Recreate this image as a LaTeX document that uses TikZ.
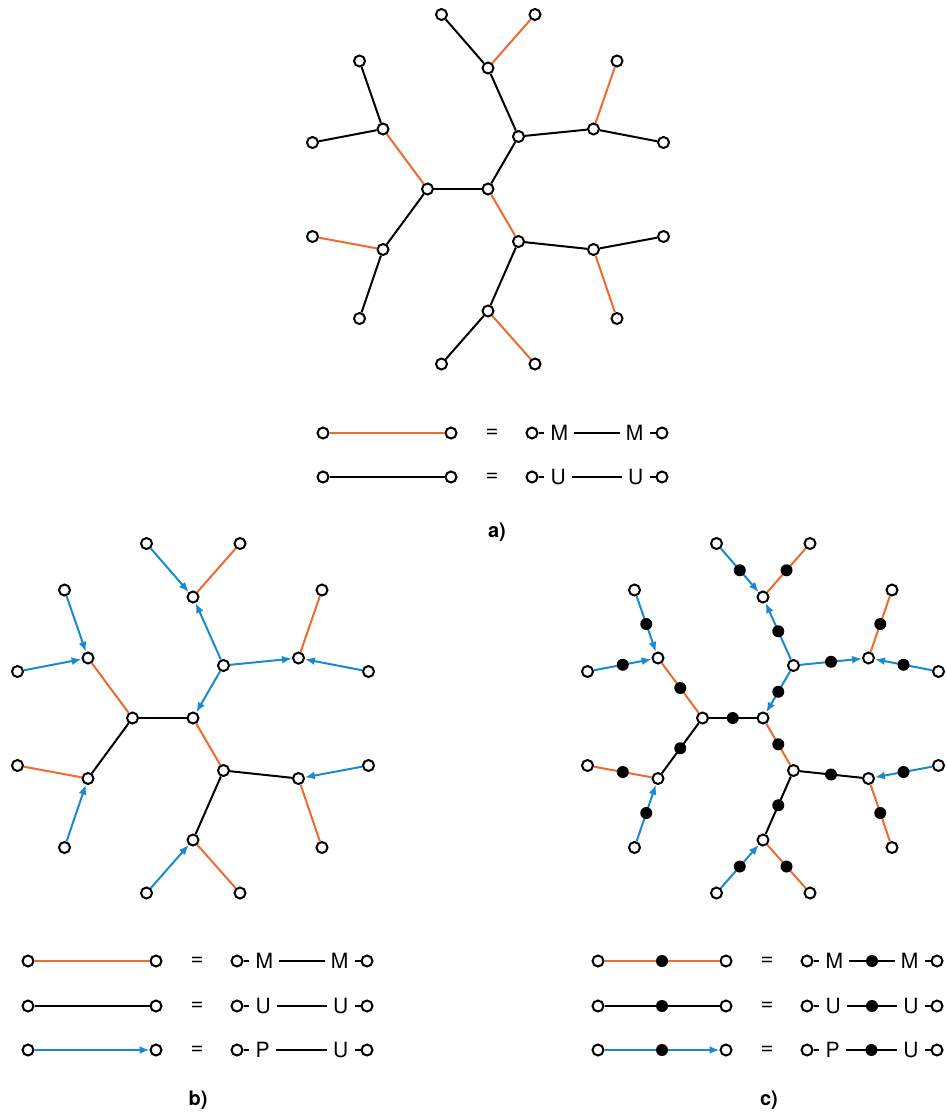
\documentclass[tikz,border=0pt]{standalone}
\usepackage{fontspec}
\setmainfont{TeX Gyre Heros}
\usetikzlibrary{arrows.meta}
\definecolor{org}{HTML}{EE6A2F}
\definecolor{blu}{HTML}{1A8AD0}
\tikzset{
  vtx/.style={circle, draw=black, fill=white, line width=2pt, minimum size=11pt, inner sep=0pt},
  mdot/.style={circle, fill=black, minimum size=12pt, inner sep=0pt},
  mnone/.style={inner sep=0pt, minimum size=0pt},
  oline/.style={draw=org, line width=2pt},
  kline/.style={draw=black, line width=2pt},
  bline/.style={draw=blu, line width=2pt, -{Latex[length=10pt,width=8pt]}},
  let/.style={inner xsep=6pt, inner ysep=0pt, text height=15pt, text depth=0pt, font=\fontsize{21}{24}\selectfont},
  eqs/.style={inner sep=0pt, font=\fontsize{22}{24}\selectfont},
  lab/.style={inner sep=0pt, font=\fontsize{20}{24}\selectfont\bfseries}
}
\newcommand\drawtree[4]{%
  \begin{scope}[shift={#2}]
    \node[vtx] (#1C1) at (427.5,189) {};
    \node[vtx] (#1C2) at (488,189) {};
    \node[vtx] (#1L1) at (383,129) {};
    \node[vtx] (#1L1a) at (359.5,61) {};
    \node[vtx] (#1L1b) at (312.5,142.5) {};
    \node[vtx] (#1L2) at (383,249.5) {};
    \node[vtx] (#1L2a) at (312.5,236.5) {};
    \node[vtx] (#1L2b) at (359.5,318.5) {};
    \node[vtx] (#1R1) at (518.5,136.5) {};
    \node[vtx] (#1T) at (488,68) {};
    \node[vtx] (#1Ta) at (441.5,14.5) {};
    \node[vtx] (#1Tb) at (535,14.5) {};
    \node[vtx] (#1RR1) at (593.5,129) {};
    \node[vtx] (#1RR1a) at (617,61) {};
    \node[vtx] (#1RR1b) at (663.5,142.5) {};
    \node[vtx] (#1R2) at (518.5,241.5) {};
    \node[vtx] (#1RR2) at (593.5,249.5) {};
    \node[vtx] (#1RR2a) at (663.5,236.5) {};
    \node[vtx] (#1RR2b) at (617,318.5) {};
    \node[vtx] (#1B) at (488,311) {};
    \node[vtx] (#1Ba) at (441.5,364) {};
    \node[vtx] (#1Bb) at (535,364) {};
  \end{scope}
  \draw[oline] (#1C1) -- node[#4]{} (#1L1);
  \draw[oline] (#1L2) -- node[#4]{} (#1L2a);
  \draw[oline] (#1C2) -- node[#4]{} (#1R2);
  \draw[oline] (#1T) -- node[#4]{} (#1Tb);
  \draw[oline] (#1RR1) -- node[#4]{} (#1RR1a);
  \draw[oline] (#1RR2) -- node[#4]{} (#1RR2b);
  \draw[oline] (#1B) -- node[#4]{} (#1Bb);
  \draw[kline] (#1C1) -- node[#4]{} (#1C2);
  \draw[kline] (#1C1) -- node[#4]{} (#1L2);
  \draw[kline] (#1R2) -- node[#4]{} (#1RR2);
  \draw[kline] (#1R2) -- node[#4]{} (#1B);
  \draw[#3] (#1L1a) -- node[#4]{} (#1L1);
  \draw[#3] (#1L1b) -- node[#4]{} (#1L1);
  \draw[#3] (#1L2b) -- node[#4]{} (#1L2);
  \draw[#3] (#1R1) -- node[#4]{} (#1C2);
  \draw[#3] (#1R1) -- node[#4]{} (#1T);
  \draw[#3] (#1Ta) -- node[#4]{} (#1T);
  \draw[#3] (#1R1) -- node[#4]{} (#1RR1);
  \draw[#3] (#1RR1b) -- node[#4]{} (#1RR1);
  \draw[#3] (#1RR2a) -- node[#4]{} (#1RR2);
  \draw[#3] (#1Ba) -- node[#4]{} (#1B);
}
\newcommand\legrow[7]{%
  \node[vtx] (#1l) at (28+#2,#3) {};
  \node[vtx] (#1r) at (156+#2,#3) {};
  \draw[#4] (#1l) -- node[#7]{} (#1r);
  \node[eqs] (#1e) at (197+#2,#3) {=};
  \node[vtx] (#1c) at (237+#2,#3) {};
  \node[let,anchor=west] (#1p) at (249.4+#2,#3) {#5};
  \node[let,anchor=east] (#1q) at (354.6+#2,#3) {#6};
  \node[vtx] (#1d) at (367+#2,#3) {};
  \draw[kline] (#1c) -- (#1p);
  \draw[kline] (#1p) -- node[#7]{} (#1q);
  \draw[kline] (#1q) -- (#1d);
}
\begin{document}
\begin{tikzpicture}[x=1pt,y=-1pt]
  \useasboundingbox (0,0) rectangle (947,1116);
  % panel a
  \drawtree{a}{(0,0)}{kline}{mnone}
  \legrow{laA}{295}{433}{oline}{M}{M}{mnone}
  \legrow{laB}{295}{477}{kline}{U}{U}{mnone}
  \node[lab] (labA) at (497,532) {a)};
  % panel b
  \drawtree{b}{(-295,529)}{bline}{mnone}
  \legrow{lbA}{0}{961}{oline}{M}{M}{mnone}
  \legrow{lbB}{0}{1006}{kline}{U}{U}{mnone}
  \legrow{lbC}{0}{1050}{bline}{P}{U}{mnone}
  \node[lab] (labB) at (198,1100) {b)};
  % panel c
  \drawtree{c}{(275,529)}{bline}{mdot}
  \legrow{lcA}{570}{961}{oline}{M}{M}{mdot}
  \legrow{lcB}{570}{1006}{kline}{U}{U}{mdot}
  \legrow{lcC}{570}{1050}{bline}{P}{U}{mdot}
  \node[lab] (labC) at (769,1100) {c)};
\end{tikzpicture}
\end{document}
